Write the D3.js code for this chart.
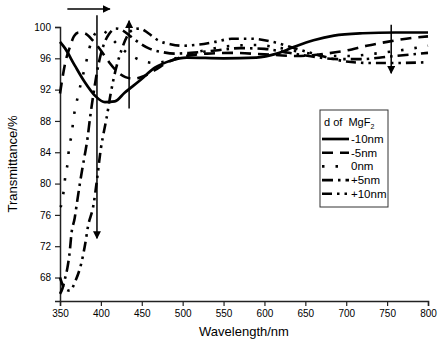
<!DOCTYPE html>
<html>
<head>
<meta charset="utf-8">
<script src="https://cdn.jsdelivr.net/npm/d3@7/dist/d3.min.js"></script>
<style>
  html, body { margin: 0; padding: 0; background: #fff; }
  svg { display: block; font-family: "Liberation Sans", Arial, sans-serif; }
</style>
</head>
<body>
<div id="chart"></div>
<script>
// ---- data (wavelength nm, transmittance %) ----
const xTicks = [350, 400, 450, 500, 550, 600, 650, 700, 750, 800];
const yTicks = [68, 72, 76, 80, 84, 88, 92, 96, 100];

const seriesNames = ["-10nm", "-5nm", "0nm", "+5nm", "+10nm"];

const dM10 = [[350,98.1],[356,97.3],[368,95.1],[380,93.0],[393,91.2],[405,90.4],[417,90.5],[429,91.6],
  [448,93.2],[466,94.8],[485,95.7],[505,96.1],[550,96.0],[590,96.1],[615,96.6],[635,97.4],[660,98.3],
  [685,98.9],[720,99.2],[760,99.3],[800,99.3]];
const dM5 = [[350,91.5],[353,93.5],[357,95.7],[362,97.4],[367,98.8],[373,99.3],[380,99.2],[390,98.3],
  [400,97.0],[410,95.5],[420,94.3],[430,93.6],[440,93.4],[452,93.7],[466,94.5],[482,95.5],[500,96.2],
  [530,96.6],[560,96.7],[600,96.5],[640,96.3],[675,96.6],[700,97.0],[725,97.6],[750,98.1],[780,98.6],[800,98.8]];
const d0 = [[350,77.0],[352,77.3],[354.5,79.1],[356.5,80.9],[359.4,82.7],[361,84.5],[364.3,86.3],[366.3,88.1],
  [372,91.2],[378,93.8],[382,95.5],[386,97.3],[391,98.8],[398,99.6],[406,99.3],[418,98.0],[432,96.7],
  [450,95.7],[466,95.4],[482,95.7],[500,96.3],[530,97.1],[560,97.6],[590,97.7],[620,97.3],[650,96.7],
  [680,96.3],[705,96.3],[735,96.6],[765,97.0],[800,97.6]];
const dP5 = [[350,65.9],[353,66.6],[356,67.8],[359,69.2],[362,71.4],[364,73.6],[368,75.6],[370,77.0],
  [374,79.8],[377,81.7],[380,83.5],[383,85.3],[387,88.6],[392,92.2],[397,95.2],[403,97.6],[410,99.1],
  [418,99.8],[426,99.6],[435,98.9],[448,97.9],[460,97.2],[475,96.8],[490,96.6],[510,96.7],[540,97.0],
  [570,97.3],[600,97.2],[630,96.7],[660,96.2],[690,95.9],[720,95.9],[750,96.2],[780,96.5],[800,96.7]];
const dP10 = [[350,68.0],[355,66.7],[362,66.3],[369,67.6],[376,69.8],[381,72.4],[384,74.4],[391,77.3],
  [395,80.3],[400,84.5],[404,86.8],[407,88.4],[412,91.5],[418,94.5],[425,97.0],[432,98.8],[440,99.7],
  [448,99.8],[458,99.2],[470,98.3],[485,97.8],[500,97.6],[515,97.7],[540,98.1],[560,98.5],[585,98.5],
  [610,98.1],[640,97.2],[670,96.3],[700,95.6],[730,95.4],[760,95.4],[800,95.5]];

const seriesData = [dM10, dM5, d0, dP5, dP10];
const dashes = ["none", "11,7", "2.5,11", "11,5,2.5,5", "10,5,2.5,5,2.5,5"];

// annotation arrows [x1, y1, x2, y2] in data units, head at the second point
const arrows = [
  [359, 102.3, 411, 102.3],
  [395.2, 101.5, 395.2, 73.0],
  [434.5, 89.6, 434.5, 100.8],
  [755, 100.3, 755, 94.1]
];

// ---- layout ----
const width = 444, height = 347;
const margin = {top: 27, right: 16, bottom: 46, left: 60};

const svg = d3.select("#chart").append("svg")
  .attr("width", width).attr("height", height);

svg.append("defs").append("marker")
  .attr("id", "head").attr("viewBox", "0 0 10 10")
  .attr("refX", 9).attr("refY", 5)
  .attr("markerWidth", 8).attr("markerHeight", 8)
  .attr("markerUnits", "userSpaceOnUse")
  .attr("orient", "auto")
  .append("path").attr("d", "M0,0 L10,5 L0,10 Z").attr("fill", "#000");

const x = d3.scaleLinear().domain([350, 800]).range([margin.left, width - margin.right]);
const y = d3.scaleLinear().domain([65, 100]).range([height - margin.bottom, margin.top]);

// minor ticks
const gx = svg.append("g").attr("transform", `translate(0,${height - margin.bottom})`);
gx.call(d3.axisBottom(x).tickValues(d3.range(375, 800, 50)).tickSize(3).tickFormat(""));
gx.call(d3.axisBottom(x).tickValues(xTicks).tickSize(5).tickPadding(4).tickFormat(d3.format("d")));

const gy = svg.append("g").attr("transform", `translate(${margin.left},0)`);
gy.call(d3.axisLeft(y).tickValues(d3.range(66, 100, 4)).tickSize(3).tickFormat(""));
gy.call(d3.axisLeft(y).tickValues(yTicks).tickSize(5).tickPadding(4).tickFormat(d3.format("d")));

svg.selectAll(".domain").attr("stroke", "#222").attr("stroke-width", 1.5);
svg.selectAll(".tick line").attr("stroke", "#222").attr("stroke-width", 1.2);
svg.selectAll(".tick text").attr("font-size", "10px").attr("fill", "#000")
  .attr("font-family", "Liberation Sans, Arial, sans-serif");

// axis titles
svg.append("text").attr("x", (margin.left + width - margin.right) / 2).attr("y", 336)
  .attr("text-anchor", "middle").attr("font-size", "13px").text("Wavelength/nm");
svg.append("text")
  .attr("transform", `translate(17,${(margin.top + height - margin.bottom) / 2}) rotate(-90)`)
  .attr("text-anchor", "middle").attr("font-size", "13px").text("Transmittance/%");

// curves
const line = d3.line().x(d => x(d[0])).y(d => y(d[1])).curve(d3.curveMonotoneX);

seriesData.forEach((s, i) => {
  svg.append("path").datum(s)
    .attr("fill", "none").attr("stroke", "#000")
    .attr("stroke-width", i === 0 ? 2.7 : 2.6)
    .attr("stroke-dasharray", dashes[i])
    .attr("d", line);
});

// arrows
svg.append("g").selectAll("line").data(arrows).join("line")
  .attr("x1", d => x(d[0])).attr("y1", d => y(d[1]))
  .attr("x2", d => x(d[2])).attr("y2", d => y(d[3]))
  .attr("stroke", "#000").attr("stroke-width", 1.5)
  .attr("marker-end", "url(#head)");

// legend
const lg = svg.append("g").attr("transform", "translate(320,110)");
lg.append("rect").attr("width", 68).attr("height", 97)
  .attr("fill", "#fff").attr("stroke", "#333").attr("stroke-width", 1);
const title = lg.append("text").attr("x", 4).attr("y", 16).attr("font-size", "11px");
title.append("tspan").text("d of\u00a0\u00a0MgF");
title.append("tspan").attr("font-size", "7px").attr("dy", 3).text("2");

seriesNames.forEach((name, i) => {
  const yy = 29 + i * 13.7;
  lg.append("line").attr("x1", 2).attr("x2", 29).attr("y1", yy).attr("y2", yy)
    .attr("stroke", "#000").attr("stroke-width", i === 0 ? 2.7 : 2.6)
    .attr("stroke-dasharray", dashes[i]);
  lg.append("text").attr("x", 31).attr("y", yy + 4).attr("font-size", "11.5px").text(name);
});
</script>
</body>
</html>
